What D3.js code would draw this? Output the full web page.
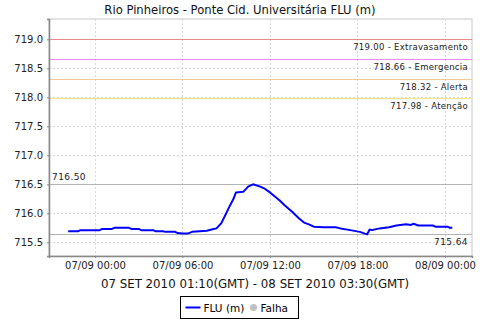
<!DOCTYPE html>
<html>
<head>
<meta charset="utf-8">
<script src="https://cdn.jsdelivr.net/npm/d3@7"></script>
<style>
  body { margin: 0; background: #fff; }
  svg { display: block; font-family: "DejaVu Sans", sans-serif; }
</style>
</head>
<body>
<svg id="chart" width="480" height="320"></svg>
<script>
// local time readings (GMT-3), 10 minute logger
var times = [
  "06 22:10", "06 22:50", "06 23:00", "07 00:20", "07 00:30", "07 01:10", "07 01:20",
  "07 02:20", "07 02:30", "07 03:00", "07 03:10", "07 04:00", "07 04:10", "07 04:40",
  "07 04:50", "07 05:30", "07 05:40", "07 06:00", "07 06:20", "07 06:40", "07 07:10",
  "07 07:40", "07 08:00", "07 08:20", "07 08:40", "07 09:00", "07 09:10", "07 09:30",
  "07 09:40", "07 10:10", "07 10:30", "07 10:50", "07 11:20", "07 11:40", "07 12:00",
  "07 12:20", "07 12:40", "07 13:00", "07 13:30", "07 14:00", "07 14:20", "07 14:40",
  "07 15:00", "07 15:40", "07 16:30", "07 16:50", "07 17:30", "07 18:10", "07 18:30",
  "07 18:40", "07 18:50", "07 19:00", "07 19:30", "07 20:10", "07 20:40", "07 21:20",
  "07 21:40", "07 21:50", "07 22:10", "07 23:10", "07 23:20", "08 00:10", "08 00:20",
  "08 00:30"
];
var levels = [
  715.69, 715.69, 715.71, 715.71, 715.73, 715.73, 715.75,
  715.75, 715.73, 715.73, 715.71, 715.71, 715.69, 715.69,
  715.68, 715.68, 715.66, 715.65, 715.65, 715.68, 715.69,
  715.70, 715.72, 715.74, 715.83, 716.00, 716.09, 716.25,
  716.36, 716.37, 716.46, 716.50, 716.46, 716.42, 716.36,
  716.29, 716.22, 716.14, 716.03, 715.91, 715.84, 715.81,
  715.77, 715.76, 715.76, 715.74, 715.71, 715.68, 715.65,
  715.64, 715.72, 715.71, 715.74, 715.76, 715.79, 715.81,
  715.80, 715.82, 715.79, 715.79, 715.77, 715.77, 715.75,
  715.75
];
var alertValues = [719.00, 718.66, 718.32, 717.98];
var alertNames = ["Extravasamento", "Emergencia", "Alerta", "Atenção"];
var alertColors = ["#e88a8a", "#ee88ee", "#f6c796", "#fbe97a"];
var yTicks = [715.5, 716.0, 716.5, 717.0, 717.5, 718.0, 718.5, 719.0];

var title = "Rio Pinheiros - Ponte Cid. Universitária FLU (m)";
var subtitle = "07 SET 2010 01:10(GMT) - 08 SET 2010 03:30(GMT)";

var parse = d3.utcParse("%Y-%m-%d %H:%M");
var data = times.map(function(t, i) {
  return { t: parse("2010-09-" + t), v: levels[i] };
});

var margin = {top: 19, right: 8, bottom: 64, left: 49};
var width = 480 - margin.left - margin.right;
var height = 320 - margin.top - margin.bottom;

var x = d3.scaleUtc()
  .domain([parse("2010-09-06 20:51"), parse("2010-09-08 01:51")])
  .range([0, width]);
var y = d3.scaleLinear()
  .domain([715.264, 719.35])
  .range([height, 0]);

var svg = d3.select("#chart");

svg.append("text")
  .attr("x", 240).attr("y", 14)
  .attr("text-anchor", "middle")
  .style("font-size", "11.6px")
  .attr("fill", "#111")
  .text(title);

var g = svg.append("g")
  .attr("transform", "translate(" + margin.left + "," + margin.top + ")");

g.append("rect")
  .attr("width", width).attr("height", height)
  .attr("fill", "#fff")
  .attr("stroke", "#c8c8c8");

var xTicks = x.ticks(d3.utcHour.every(6));

// grid
g.append("g").selectAll("line").data(yTicks).enter().append("line")
  .attr("x1", 0).attr("x2", width)
  .attr("y1", function(d) { return Math.round(y(d)) + 0.5; })
  .attr("y2", function(d) { return Math.round(y(d)) + 0.5; })
  .attr("stroke", "#d8d8d8").attr("stroke-dasharray", "2,2");
g.append("g").selectAll("line").data(xTicks).enter().append("line")
  .attr("y1", 0).attr("y2", height)
  .attr("x1", function(d) { return Math.round(x(d)) + 0.5; })
  .attr("x2", function(d) { return Math.round(x(d)) + 0.5; })
  .attr("stroke", "#d8d8d8").attr("stroke-dasharray", "2,2");

// alert levels
alertValues.forEach(function(v, i) {
  var yy = Math.round(y(v)) + 0.5;
  g.append("line")
    .attr("x1", 0).attr("x2", width)
    .attr("y1", yy).attr("y2", yy)
    .attr("stroke", alertColors[i]).attr("stroke-width", 1.2);
  g.append("text")
    .attr("x", width - 4).attr("y", yy + 10)
    .attr("text-anchor", "end")
    .style("font-size", "8.5px")
    .style("letter-spacing", "0.3px")
    .attr("fill", "#222")
    .text(d3.format(".2f")(v) + " - " + alertNames[i]);
});

// max / min markers
var maxV = d3.max(levels), minV = d3.min(levels);
[maxV, minV].forEach(function(v) {
  var yy = Math.round(y(v)) + 0.5;
  g.append("line")
    .attr("x1", 0).attr("x2", width)
    .attr("y1", yy).attr("y2", yy)
    .attr("stroke", "#b4b4b4");
});
g.append("text")
  .attr("x", 3).attr("y", Math.round(y(maxV)) - 4)
  .style("font-size", "9px").style("letter-spacing", "0.4px")
  .attr("fill", "#222")
  .text(d3.format(".2f")(maxV));
g.append("text")
  .attr("x", width - 4).attr("y", Math.round(y(minV)) + 11)
  .attr("text-anchor", "end")
  .style("font-size", "9px").style("letter-spacing", "0.4px")
  .attr("fill", "#222")
  .text(d3.format(".2f")(minV));

// series
var line = d3.line()
  .x(function(d) { return x(d.t); })
  .y(function(d) { return y(d.v); });
g.append("path")
  .datum(data)
  .attr("d", line)
  .attr("fill", "none")
  .attr("stroke", "#0000ff")
  .attr("stroke-width", 2)
  .attr("stroke-linejoin", "round");

// axes
var yAxis = g.append("g")
  .call(d3.axisLeft(y).tickValues(yTicks).tickFormat(d3.format(".1f")).tickSize(2).tickPadding(4));
var xAxis = g.append("g")
  .attr("transform", "translate(0," + height + ")")
  .call(d3.axisBottom(x).tickValues(xTicks).tickFormat(d3.utcFormat("%d/%m %H:%M")).tickSize(2).tickPadding(4));
[yAxis, xAxis].forEach(function(a) {
  a.select(".domain").attr("stroke", "#888").attr("stroke-width", 1.5);
  a.selectAll(".tick line").attr("stroke", "#888");
  a.selectAll("text").style("font-size", "10px").attr("fill", "#222")
    .style("font-family", "DejaVu Sans, sans-serif");
});

svg.append("text")
  .attr("x", 255).attr("y", 288)
  .attr("text-anchor", "middle")
  .style("font-size", "11.8px")
  .attr("fill", "#111")
  .text(subtitle);

// legend
var lg = svg.append("g").attr("transform", "translate(180.5,296.5)");
lg.append("rect").attr("width", 118).attr("height", 22)
  .attr("fill", "#fff").attr("stroke", "#000");
lg.append("line").attr("x1", 5).attr("x2", 20).attr("y1", 11).attr("y2", 11)
  .attr("stroke", "#0000ff").attr("stroke-width", 2);
lg.append("text").attr("x", 23).attr("y", 15)
  .style("font-size", "10.5px").attr("fill", "#000").text("FLU (m)");
lg.append("circle").attr("cx", 73).attr("cy", 11).attr("r", 3.5).attr("fill", "#c0c0c0");
lg.append("text").attr("x", 80).attr("y", 15)
  .style("font-size", "10.5px").attr("fill", "#000").text("Falha");
</script>
</body>
</html>
